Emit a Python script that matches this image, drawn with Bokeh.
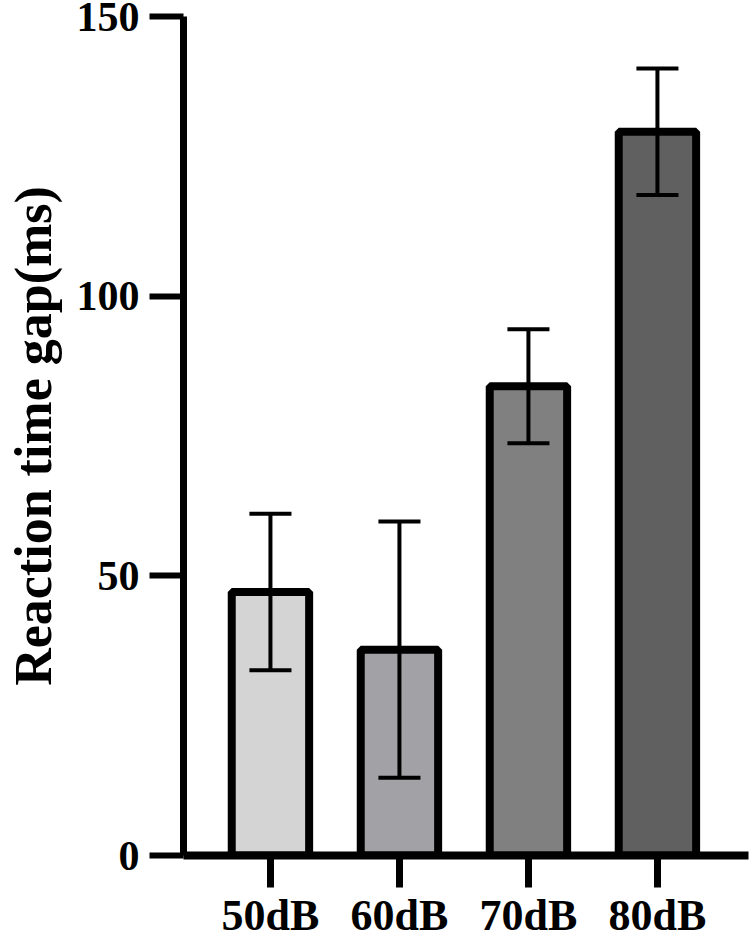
from bokeh.plotting import figure
from bokeh.models import Range1d, FixedTicker, ColumnDataSource
from bokeh.embed import file_html
from bokeh.resources import INLINE

# Mean reaction-time gap per noise level, with error (± half-range)
levels = ["50dB", "60dB", "70dB", "80dB"]
means = [47.1, 36.8, 83.9, 129.4]
errors = [14.0, 22.9, 10.2, 11.3]
fills = ["#d4d4d4", "#a2a2a6", "#808080", "#606060"]
y_ticks = [0, 50, 100, 150]

xs = list(range(len(levels)))
src = ColumnDataSource(dict(
    x=xs,
    top=means,
    lower=[m - e for m, e in zip(means, errors)],
    upper=[m + e for m, e in zip(means, errors)],
    fill=fills,
))

FONT = "Liberation Serif"

p = figure(
    width=750, height=942,
    x_range=Range1d(-0.674, 3.706),
    y_range=Range1d(0, 150),
    output_backend="svg", toolbar_location=None,
    min_border_left=183, min_border_right=2,
    min_border_top=16, min_border_bottom=87,
)
p.outline_line_color = None
p.grid.visible = False

p.vbar(x="x", top="top", bottom=0, width=0.6, source=src,
       fill_color="fill", line_color="black", line_width=8)

# error bars: stem plus caps
cap = 0.163
p.segment(x0="x", x1="x", y0="lower", y1="upper", source=src,
          line_color="black", line_width=4)
for key in ("lower", "upper"):
    p.segment(x0=[x - cap for x in xs], x1=[x + cap for x in xs],
              y0=src.data[key], y1=src.data[key],
              line_color="black", line_width=4)

ax = p.xaxis[0]
ax.ticker = FixedTicker(ticks=xs)
ax.major_label_overrides = {i: lab for i, lab in enumerate(levels)}
ax.axis_line_width = 8
ax.major_tick_line_width = 7
ax.major_tick_out = 32
ax.major_tick_in = 0
ax.minor_tick_line_color = None
ax.major_label_text_font = FONT
ax.major_label_text_font_style = "bold"
ax.major_label_text_font_size = "44px"
ax.major_label_text_color = "black"
ax.major_label_standoff = 3

ay = p.yaxis[0]
ay.ticker = FixedTicker(ticks=y_ticks)
ay.axis_line_width = 7
ay.major_tick_line_width = 6
ay.major_tick_out = 34
ay.major_tick_in = 0
ay.minor_tick_line_color = None
ay.major_label_text_font = FONT
ay.major_label_text_font_style = "bold"
ay.major_label_text_font_size = "42px"
ay.major_label_text_color = "black"
ay.major_label_standoff = 10
ay.axis_label = "Reaction time gap(ms)"
ay.axis_label_text_font = FONT
ay.axis_label_text_font_style = "bold"
ay.axis_label_text_font_size = "52px"
ay.axis_label_text_color = "black"
ay.axis_label_text_baseline = "alphabetic"
ay.axis_label_standoff = 12

open("out.html", "w").write(file_html(p, INLINE))
